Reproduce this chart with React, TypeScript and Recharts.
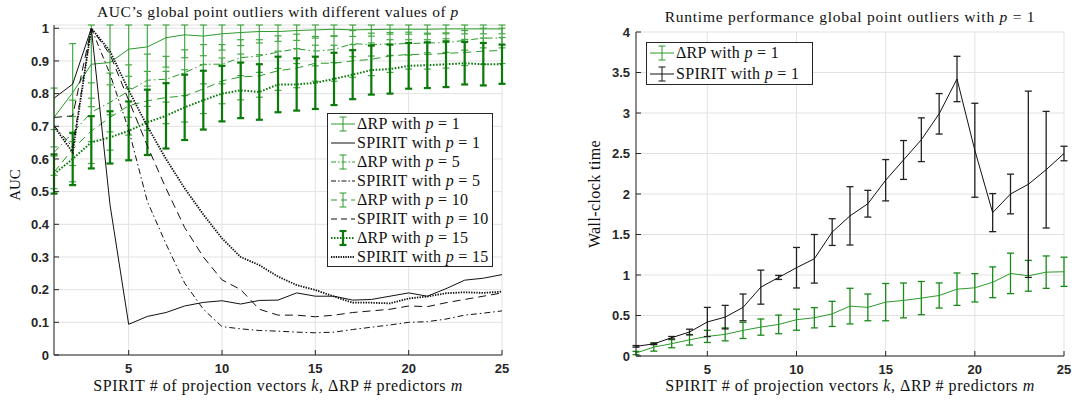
import React from "react"
import { LineChart, Line, XAxis, YAxis, CartesianGrid, ErrorBar } from "recharts"

// x values: SPIRIT # of projection vectors k / ΔRP # predictors m
const ks = [1, 2, 3, 4, 5, 6, 7, 8, 9, 10, 11, 12, 13, 14, 15, 16, 17, 18, 19, 20, 21, 22, 23, 24, 25]

// left panel: AUC
const rpP1 = [0.727, 0.803, 0.89, 0.895, 0.936, 0.943, 0.971, 0.98, 0.976, 0.983, 0.987, 0.99, 0.99, 0.993, 0.995, 0.997, 0.995, 0.996, 0.997, 0.997, 0.997, 0.998, 0.998, 0.998, 0.998]
const rpP1Err = [0.09, 0.15, 0.13, 0.16, 0.12, 0.12, 0.09, 0.07, 0.06, 0.05, 0.04, 0.035, 0.03, 0.03, 0.025, 0.02, 0.02, 0.02, 0.015, 0.015, 0.015, 0.015, 0.015, 0.015, 0.015]
const rpP5 = [0.62, 0.68, 0.743, 0.773, 0.808, 0.841, 0.844, 0.864, 0.89, 0.89, 0.91, 0.915, 0.927, 0.937, 0.93, 0.935, 0.953, 0.95, 0.952, 0.953, 0.955, 0.956, 0.963, 0.97, 0.97]
const rpP5Err = [0.07, 0.1, 0.09, 0.09, 0.08, 0.08, 0.07, 0.07, 0.06, 0.06, 0.055, 0.05, 0.05, 0.045, 0.045, 0.04, 0.04, 0.035, 0.035, 0.035, 0.03, 0.03, 0.03, 0.03, 0.03]
const rpP10 = [0.559, 0.63, 0.686, 0.727, 0.763, 0.778, 0.788, 0.793, 0.814, 0.839, 0.851, 0.854, 0.87, 0.878, 0.893, 0.893, 0.9, 0.905, 0.915, 0.92, 0.92, 0.923, 0.926, 0.93, 0.932]
const rpP10Err = [0.05, 0.1, 0.1, 0.1, 0.09, 0.09, 0.08, 0.08, 0.075, 0.07, 0.07, 0.065, 0.06, 0.06, 0.055, 0.055, 0.05, 0.05, 0.05, 0.045, 0.045, 0.045, 0.04, 0.04, 0.04]
const rpP15 = [0.554, 0.6, 0.651, 0.666, 0.686, 0.712, 0.732, 0.758, 0.78, 0.8, 0.81, 0.805, 0.828, 0.828, 0.833, 0.845, 0.858, 0.872, 0.875, 0.885, 0.887, 0.89, 0.893, 0.89, 0.89]
const rpP15Err = [0.06, 0.08, 0.08, 0.08, 0.09, 0.1, 0.1, 0.1, 0.09, 0.085, 0.085, 0.085, 0.085, 0.08, 0.08, 0.08, 0.075, 0.075, 0.075, 0.07, 0.07, 0.07, 0.065, 0.065, 0.06]
const spP1 = [0.786, 0.829, 1.0, 0.46, 0.094, 0.118, 0.13, 0.15, 0.161, 0.166, 0.156, 0.167, 0.168, 0.19, 0.18, 0.18, 0.168, 0.17, 0.18, 0.19, 0.18, 0.203, 0.229, 0.235, 0.246]
const spP5 = [0.702, 0.636, 1.0, 0.86, 0.69, 0.47, 0.34, 0.22, 0.14, 0.087, 0.08, 0.075, 0.073, 0.07, 0.068, 0.07, 0.078, 0.085, 0.092, 0.1, 0.102, 0.11, 0.122, 0.128, 0.135]
const spP10 = [0.727, 0.732, 1.0, 0.92, 0.78, 0.64, 0.51, 0.39, 0.3, 0.23, 0.2, 0.14, 0.122, 0.122, 0.117, 0.122, 0.13, 0.135, 0.14, 0.15, 0.148, 0.16, 0.17, 0.18, 0.19]
const spP15 = [0.7, 0.62, 1.0, 0.93, 0.81, 0.7, 0.6, 0.51, 0.43, 0.357, 0.3, 0.275, 0.24, 0.214, 0.199, 0.179, 0.16, 0.16, 0.158, 0.173, 0.179, 0.189, 0.192, 0.19, 0.194]

// right panel: wall-clock time, p = 1
const rtRp = [0.037, 0.11, 0.152, 0.2, 0.242, 0.267, 0.316, 0.357, 0.39, 0.448, 0.472, 0.52, 0.616, 0.6, 0.665, 0.686, 0.715, 0.747, 0.825, 0.842, 0.91, 1.02, 0.99, 1.035, 1.04]
const rtRpErr = [0.02, 0.05, 0.05, 0.065, 0.075, 0.08, 0.1, 0.1, 0.115, 0.13, 0.125, 0.155, 0.22, 0.165, 0.23, 0.215, 0.205, 0.155, 0.2, 0.175, 0.19, 0.25, 0.19, 0.2, 0.18]
const rtSp = [0.119, 0.15, 0.226, 0.296, 0.42, 0.48, 0.6, 0.85, 0.97, 1.09, 1.2, 1.53, 1.73, 1.88, 2.17, 2.42, 2.67, 2.99, 3.42, 2.54, 1.77, 2.0, 2.12, 2.3, 2.5]
const rtSpErr = [0.01, 0.01, 0.015, 0.035, 0.18, 0.145, 0.165, 0.21, 0.025, 0.25, 0.3, 0.165, 0.36, 0.165, 0.255, 0.24, 0.27, 0.25, 0.28, 0.58, 0.235, 0.245, 1.15, 0.72, 0.09]

const xTicks = [5, 10, 15, 20, 25]
const aucTicks = [0, 0.1, 0.2, 0.3, 0.4, 0.5, 0.6, 0.7, 0.8, 0.9, 1]
const timeTicks = [0, 0.5, 1, 1.5, 2, 2.5, 3, 3.5, 4]
const AUC_MAX = 1.01

// error bars that run past the top of the axes are cut at the frame, as in the original
const clipErr = (v: number, e: number): [number, number] => [e, Math.max(0, Math.min(e, AUC_MAX - v))]

const aucData = ks.map((k, i) => ({
  k,
  rp1: rpP1[i], rp1e: clipErr(rpP1[i], rpP1Err[i]),
  rp5: rpP5[i], rp5e: clipErr(rpP5[i], rpP5Err[i]),
  rp10: rpP10[i], rp10e: clipErr(rpP10[i], rpP10Err[i]),
  rp15: rpP15[i], rp15e: clipErr(rpP15[i], rpP15Err[i]),
  sp1: spP1[i], sp5: spP5[i], sp10: spP10[i], sp15: spP15[i],
}))

const timeData = ks.map((k, i) => ({ k, rp: rtRp[i], rpe: rtRpErr[i], sp: rtSp[i], spe: rtSpErr[i] }))

const GREEN = "#2b9a2b"
const GREEN_LIGHT = "#45a845"
const GREEN_DARK = "#0a7a0a"
const AX = "#262626"
const SERIF = "'Liberation Serif', 'DejaVu Serif', serif"
const tickFont = { fontFamily: "'Liberation Sans', Arial, sans-serif", fontWeight: 700, fontSize: 13, fill: AX }

const P = () => <i>p</i>

type Icon = { color: string; dash?: string; width?: number; err?: boolean; errW?: number }

function LegendIcon({ color, dash, width = 1, err, errW = 1 }: Icon) {
  return (
    <svg width={26} height={16} style={{ flex: "none" }}>
      <line x1={1} y1={8} x2={25} y2={8} stroke={color} strokeWidth={width} strokeDasharray={dash} />
      {err && (
        <g stroke={color} strokeWidth={errW}>
          <line x1={13} y1={1} x2={13} y2={15} />
          <line x1={9.5} y1={1} x2={16.5} y2={1} />
          <line x1={9.5} y1={15} x2={16.5} y2={15} />
        </g>
      )}
    </svg>
  )
}

function LegendBox({ rows, style, rowH }: { rows: { icon: Icon; label: React.ReactNode }[]; style: React.CSSProperties; rowH: number }) {
  return (
    <div
      style={{
        position: "absolute",
        background: "#fff",
        border: `1px solid ${AX}`,
        fontFamily: SERIF,
        fontSize: 16,
        letterSpacing: 0.3,
        color: "#111",
        boxSizing: "border-box",
        padding: "0px 2px",
        ...style,
      }}
    >
      {rows.map((r, i) => (
        <div key={i} style={{ display: "flex", alignItems: "center", height: rowH, whiteSpace: "nowrap" }}>
          <LegendIcon {...r.icon} />
          <span style={{ marginLeft: 1 }}>{r.label}</span>
        </div>
      ))}
    </div>
  )
}

const XLabel = () => (
  <span>
    SPIRIT # of projection vectors <i>k</i>, ΔRP # predictors <i>m</i>
  </span>
)

function AucChart() {
  return (
    <div style={{ position: "absolute", left: 0, top: 0, width: 540, height: 400 }}>
      <LineChart width={540} height={400} data={aucData} margin={{ top: 25, right: 38, bottom: 15, left: 14 }}>
        <CartesianGrid stroke="#e2e2e2" strokeWidth={1} />
        <Line dataKey="rp1" stroke={GREEN} strokeWidth={1} dot={false} isAnimationActive={false}>
          <ErrorBar dataKey="rp1e" width={3.5} stroke={GREEN_LIGHT} strokeWidth={1.2} />
        </Line>
        <Line dataKey="rp5" stroke={GREEN} strokeWidth={1} strokeDasharray="7 3 1.5 3" dot={false} isAnimationActive={false}>
          <ErrorBar dataKey="rp5e" width={3.5} stroke={GREEN_LIGHT} strokeWidth={1.2} />
        </Line>
        <Line dataKey="rp10" stroke={GREEN} strokeWidth={1} strokeDasharray="8 5" dot={false} isAnimationActive={false}>
          <ErrorBar dataKey="rp10e" width={3.5} stroke={GREEN_LIGHT} strokeWidth={1.2} />
        </Line>
        <Line dataKey="rp15" stroke={GREEN_DARK} strokeWidth={2} strokeDasharray="1.6 1.6" dot={false} isAnimationActive={false}>
          <ErrorBar dataKey="rp15e" width={3.5} stroke={GREEN_DARK} strokeWidth={2.2} />
        </Line>
        <Line dataKey="sp1" stroke="#111" strokeWidth={1} dot={false} isAnimationActive={false} />
        <Line dataKey="sp5" stroke="#111" strokeWidth={1} strokeDasharray="6 3 1.5 3" dot={false} isAnimationActive={false} />
        <Line dataKey="sp10" stroke="#111" strokeWidth={1} strokeDasharray="8 5" dot={false} isAnimationActive={false} />
        <Line dataKey="sp15" stroke="#111" strokeWidth={1.8} strokeDasharray="1.4 1.2" dot={false} isAnimationActive={false} />
        <XAxis dataKey="k" type="number" domain={[1, 25]} ticks={xTicks} allowDataOverflow height={30}
          tick={tickFont} stroke={AX} tickSize={-5} tickMargin={14} />
        <XAxis xAxisId="top" dataKey="k" type="number" domain={[1, 25]} ticks={xTicks} orientation="top" height={0}
          tick={false} stroke={AX} tickSize={-5} />
        <YAxis type="number" domain={[0, AUC_MAX]} ticks={aucTicks} allowDataOverflow width={40}
          tick={tickFont} stroke={AX} tickSize={-5} tickMargin={10} />
        <YAxis yAxisId="right" type="number" domain={[0, AUC_MAX]} ticks={aucTicks} orientation="right" width={0}
          tick={false} stroke={AX} tickSize={-5} />
      </LineChart>
    </div>
  )
}

function TimeChart() {
  return (
    <div style={{ position: "absolute", left: 540, top: 0, width: 538, height: 400 }}>
      <LineChart width={538} height={400} data={timeData} margin={{ top: 32, right: 14, bottom: 14, left: 56 }}>
        <CartesianGrid stroke="#e2e2e2" strokeWidth={1} />
        <Line dataKey="rp" stroke={GREEN} strokeWidth={1} dot={false} isAnimationActive={false}>
          <ErrorBar dataKey="rpe" width={3.5} stroke="#188a18" strokeWidth={1.3} />
        </Line>
        <Line dataKey="sp" stroke="#111" strokeWidth={1} dot={false} isAnimationActive={false}>
          <ErrorBar dataKey="spe" width={3.5} stroke="#222" strokeWidth={1.3} />
        </Line>
        <XAxis dataKey="k" type="number" domain={[1, 25]} ticks={xTicks} allowDataOverflow height={30}
          tick={tickFont} stroke={AX} tickSize={-5} tickMargin={14} />
        <XAxis xAxisId="top" dataKey="k" type="number" domain={[1, 25]} ticks={xTicks} orientation="top" height={0}
          tick={false} stroke={AX} tickSize={-5} />
        <YAxis type="number" domain={[0, 4]} ticks={timeTicks} allowDataOverflow width={40}
          tick={tickFont} stroke={AX} tickSize={-5} tickMargin={11} />
        <YAxis yAxisId="right" type="number" domain={[0, 4]} ticks={timeTicks} orientation="right" width={0}
          tick={false} stroke={AX} tickSize={-5} />
      </LineChart>
    </div>
  )
}

const textBase: React.CSSProperties = { position: "absolute", fontFamily: SERIF, color: "#111", whiteSpace: "nowrap" }

export default function App() {
  return (
    <div style={{ position: "absolute", left: 0, top: 0, width: 1078, height: 400, background: "#fff", overflow: "hidden" }}>
      <AucChart />
      <TimeChart />

      <div style={{ ...textBase, left: 54, width: 448, top: 3, textAlign: "center", fontSize: 15.5, letterSpacing: 0.55 }}>
        AUC’s global point outliers with different values of <P />
      </div>
      <div style={{ ...textBase, left: 636, width: 428, top: 8, textAlign: "center", fontSize: 15.5, letterSpacing: 0.75 }}>
        Runtime performance global point outliers with <P /> = 1
      </div>

      <div style={{ ...textBase, left: 54, width: 448, top: 377, textAlign: "center", fontSize: 16, letterSpacing: 0.55 }}>
        <XLabel />
      </div>
      <div style={{ ...textBase, left: 636, width: 428, top: 377, textAlign: "center", fontSize: 16, letterSpacing: 0.55 }}>
        <XLabel />
      </div>

      <div style={{ ...textBase, left: 15, top: 185, fontSize: 15, transform: "translate(-50%, -50%) rotate(-90deg)" }}>AUC</div>
      <div style={{ ...textBase, left: 595, top: 194, fontSize: 16, letterSpacing: 0.4, transform: "translate(-50%, -50%) rotate(-90deg)" }}>
        Wall-clock time
      </div>

      <LegendBox
        rowH={19}
        style={{ left: 327, top: 113, width: 166, height: 154 }}
        rows={[
          { icon: { color: GREEN, err: true }, label: <>ΔRP with <P /> = 1</> },
          { icon: { color: "#111" }, label: <>SPIRIT with <P /> = 1</> },
          { icon: { color: GREEN, dash: "5 2 1.5 2", err: true }, label: <>ΔRP with <P /> = 5</> },
          { icon: { color: "#111", dash: "5 2 1.5 2" }, label: <>SPIRIT with <P /> = 5</> },
          { icon: { color: GREEN, dash: "6 4", err: true }, label: <>ΔRP with <P /> = 10</> },
          { icon: { color: "#111", dash: "6 4" }, label: <>SPIRIT with <P /> = 10</> },
          { icon: { color: GREEN_DARK, dash: "1.5 1.5", width: 2, err: true, errW: 2.2 }, label: <>ΔRP with <P /> = 15</> },
          { icon: { color: "#111", dash: "1.3 1.1", width: 1.8 }, label: <>SPIRIT with <P /> = 15</> },
        ]}
      />
      <LegendBox
        rowH={20.5}
        style={{ left: 646, top: 42, width: 167, height: 43 }}
        rows={[
          { icon: { color: GREEN, err: true }, label: <>ΔRP with <P /> = 1</> },
          { icon: { color: "#111", err: true }, label: <>SPIRIT with <P /> = 1</> },
        ]}
      />
    </div>
  )
}
